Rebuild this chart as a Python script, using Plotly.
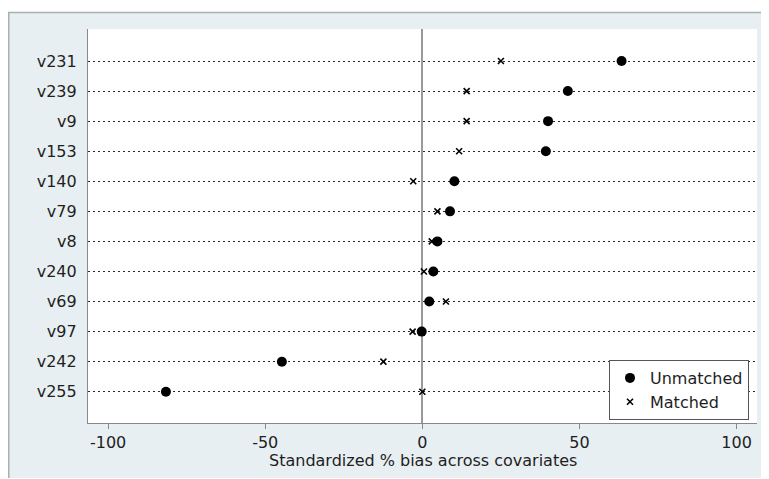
import plotly.graph_objects as go

# ---- data ----
covariates = ["v231", "v239", "v9", "v153", "v140", "v79", "v8", "v240", "v69", "v97", "v242", "v255"]
unmatched = [63.4, 46.3, 40.0, 39.3, 10.2, 8.8, 4.8, 3.5, 2.2, -0.2, -44.7, -81.6]
matched = [25.0, 14.1, 14.1, 11.7, -2.9, 4.8, 3.0, 0.5, 7.5, -3.1, -12.4, 0.0]
x_ticks = [-100, -50, 0, 50, 100]
x_title = "Standardized % bias across covariates"

n = len(covariates)
ypos = [n - i for i in range(n)]  # top to bottom

# page is 769x479; the html body has an 8px margin, so the figure starts at (8, 8)
OFF = 8
PW, PH = 769, 479
W, H = PW - OFF, PH - OFF
L, R, T, B = 88 - OFF, 12, 29 - OFF, 56
pw, ph = W - L - R, H - T - B


def px_x(p):  # page pixel -> paper coord
    return (p - OFF - L) / pw


def px_y(p):
    return (H - B - (p - OFF)) / ph


FONT = "DejaVu Sans"
BG = "#e8eff2"
TXT = "#1e1e1e"

fig = go.Figure()
fig.add_trace(go.Scatter(
    x=unmatched, y=ypos, mode="markers", name="Unmatched",
    marker=dict(symbol="circle", size=10, color="black"),
))
fig.add_trace(go.Scatter(
    x=matched, y=ypos, mode="markers", name="Matched",
    marker=dict(symbol="x-thin", size=6, color="black",
                line=dict(width=1.6, color="black")),
))

shapes = [
    dict(type="rect", xref="paper", yref="paper", layer="below",
         x0=px_x(0), x1=px_x(PW + 10), y0=px_y(12.5), y1=px_y(0),
         fillcolor="white", line=dict(width=0)),
    dict(type="rect", xref="paper", yref="paper", layer="below",
         x0=px_x(0), x1=px_x(PW + 10), y0=px_y(PH + 10), y1=px_y(478),
         fillcolor="white", line=dict(width=0)),
    dict(type="line", xref="paper", yref="paper", layer="below",
         x0=px_x(8), x1=px_x(PW + 10), y0=px_y(12.5), y1=px_y(12.5),
         line=dict(color="#a9b0b2", width=1.5)),
    dict(type="line", xref="paper", yref="paper", layer="below",
         x0=px_x(8.75), x1=px_x(8.75), y0=px_y(478), y1=px_y(12.5),
         line=dict(color="#a9b0b2", width=1.5)),
]

fig.update_layout(
    width=W, height=H,
    margin=dict(l=L, r=R, t=T, b=B, autoexpand=False),
    paper_bgcolor=BG, plot_bgcolor="white",
    font=dict(family=FONT, size=16, color=TXT),
    showlegend=True,
    legend=dict(
        x=px_x(749), y=px_y(420), xanchor="right", yanchor="bottom",
        bgcolor="white", bordercolor="#555", borderwidth=1,
        font=dict(family=FONT, size=16, color=TXT),
        tracegroupgap=0, itemwidth=30,
    ),
    shapes=shapes,
    annotations=[dict(
        text=x_title, xref="paper", yref="paper",
        x=0.5, y=px_y(460), xanchor="center", yanchor="middle",
        showarrow=False, font=dict(family=FONT, size=16, color=TXT),
    )],
    xaxis=dict(
        range=[-106.4, 106.5], tickvals=x_ticks,
        ticktext=[str(v) for v in x_ticks],
        showgrid=False, zeroline=True, zerolinecolor="#999", zerolinewidth=1.5,
        showline=True, linecolor="#888", linewidth=1.2,
        ticks="outside", ticklen=5, tickcolor="#888", tickwidth=1.2,
        automargin=False,
    ),
    yaxis=dict(
        range=[-0.04, 13.065], tickvals=ypos, ticktext=covariates,
        showgrid=True, gridcolor="#2a2a2a", gridwidth=1.4, griddash="1.5px,3.5px",
        zeroline=False,
        showline=True, linecolor="#888", linewidth=1.2,
        ticks="", ticklabelstandoff=7,
        automargin=False,
    ),
)

fig.write_html("out.html")
